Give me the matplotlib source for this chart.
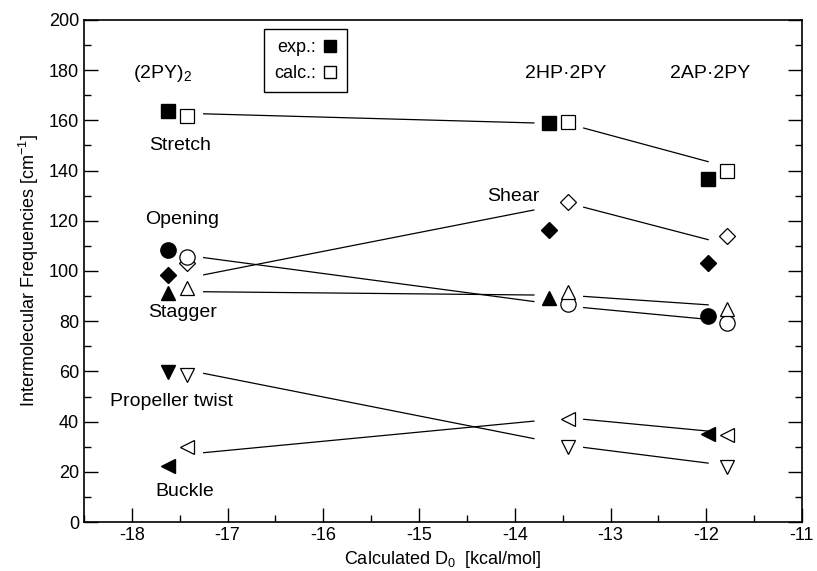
import numpy as np
import matplotlib
matplotlib.use("Agg")
import matplotlib.pyplot as plt
from matplotlib.lines import Line2D

plt.rcParams["font.family"] = ["Liberation Sans", "DejaVu Sans"]
plt.rcParams["mathtext.fontset"] = "custom"
plt.rcParams["mathtext.rm"] = "Liberation Sans"
plt.rcParams["mathtext.it"] = "Liberation Sans:italic"

# dimers (columns) and their D0 positions
dimers = ["(2PY)$_2$", "2HP·2PY", "2AP·2PY"]
x_exp = [-17.62, -13.64, -11.98]
x_calc = [-17.42, -13.44, -11.78]

# modes: name, marker
modes = ["Stretch", "Shear", "Opening", "Stagger", "Propeller twist", "Buckle"]
markers = ["s", "D", "o", "^", "v", "<"]

# experimental frequencies (nan = not observed)
exp_vals = {
    "Stretch":         [163.7, 159.0, 136.7],
    "Shear":           [98.4, 116.3, 103.2],
    "Opening":         [108.4, np.nan, 82.1],
    "Stagger":         [91.2, 89.2, np.nan],
    "Propeller twist": [59.8, np.nan, np.nan],
    "Buckle":          [22.3, np.nan, 35.1],
}
# calculated frequencies
calc_vals = {
    "Stretch":         [161.8, 159.4, 139.8],
    "Shear":           [103.2, 127.5, 113.9],
    "Opening":         [105.6, 86.9, 79.3],
    "Stagger":         [93.2, 91.6, 84.9],
    "Propeller twist": [58.6, 29.9, 21.9],
    "Buckle":          [29.9, 41.0, 34.7],
}
# guide line levels at each column
guide_vals = {
    "Stretch":         [162.8, 158.6, 141.5],
    "Shear":           [97.2, 127.0, 110.5],
    "Opening":         [106.2, 86.0, 80.0],
    "Stagger":         [91.8, 90.3, 86.0],
    "Propeller twist": [60.5, 30.5, 22.5],
    "Buckle":          [27.0, 41.5, 35.5],
}

# label positions for the mode names
mode_lab_x = {"Stretch": -17.50, "Shear": -14.02, "Opening": -17.48,
              "Stagger": -17.47, "Propeller twist": -17.59, "Buckle": -17.45}
mode_lab_y = {"Stretch": 150, "Shear": 129.5, "Opening": 120.5,
              "Stagger": 83.5, "Propeller twist": 48.0, "Buckle": 12.0}
dimer_lab_x = [-17.68, -13.47, -11.96]
dimer_lab_y = 178.5

msize = {"s": 9.5, "D": 7.8, "o": 11, "^": 10.5, "v": 10.5, "<": 10.5}

fig = plt.figure(figsize=(8.17, 5.71), dpi=100)
ax = fig.add_axes([0.1028, 0.0858, 0.8788, 0.8792])

gap_start = [0.17, 0.16]
gap_end = [0.36, 0.2]
for mode, mk in zip(modes, markers):
    ev = exp_vals[mode]
    cv = calc_vals[mode]
    gv = guide_vals[mode]
    ax.plot(x_exp, ev, linestyle="none", marker=mk, ms=msize[mk],
            mfc="black", mec="black", mew=1.0)
    ax.plot(x_calc, cv, linestyle="none", marker=mk, ms=msize[mk],
            mfc="white", mec="black", mew=0.9)
    # connecting lines between columns, trimmed near the markers
    for i in range(len(x_calc) - 1):
        xa, xb = x_calc[i], x_calc[i + 1]
        x0, x1 = xa + gap_start[i], xb - gap_end[i]
        y0 = np.interp(x0, [xa, xb], [gv[i], gv[i + 1]])
        y1 = np.interp(x1, [xa, xb], [gv[i], gv[i + 1]])
        ax.plot([x0, x1], [y0, y1], color="black", lw=0.9)
    ax.text(mode_lab_x[mode], mode_lab_y[mode], mode, fontsize=14,
            ha="center", va="center")

for name, xl in zip(dimers, dimer_lab_x):
    ax.text(xl, dimer_lab_y, name, fontsize=14, ha="center", va="center")

ax.set_xlim(-18.5, -11)
ax.set_ylim(0, 200)
ax.set_xticks(np.arange(-18, -10.9, 1))
ax.set_xticks(np.arange(-18.5, -10.9, 0.5), minor=True)
ax.set_yticks(np.arange(0, 201, 20))
ax.set_yticks(np.arange(0, 201, 10), minor=True)
ax.tick_params(which="major", direction="in", length=10, width=1,
               labelsize=13, right=True, top=False)
ax.tick_params(which="minor", direction="in", length=5, width=1,
               right=True, top=False)
ax.xaxis.set_major_formatter(plt.FuncFormatter(lambda v, p: f"{v:.0f}"))
for s in ax.spines.values():
    s.set_linewidth(1.2)

ax.set_xlabel("Calculated D$_0$  [kcal/mol]", fontsize=13, labelpad=4)
ax.set_ylabel("Intermolecular Frequencies [cm$^{-1}$]", fontsize=13, labelpad=6)

handles = [Line2D([], [], linestyle="none", marker="s", ms=9, mfc="black", mec="black"),
           Line2D([], [], linestyle="none", marker="s", ms=9, mfc="white", mec="black")]
leg = ax.legend(handles, ["exp.:", "calc.:"], markerfirst=False, loc="upper left",
                bbox_to_anchor=(0.238, 1.0), fancybox=False, framealpha=1,
                edgecolor="black", fontsize=13, handlelength=0.8,
                handletextpad=0.4, borderpad=0.55, labelspacing=0.5)
leg.get_frame().set_linewidth(1.0)

fig.savefig("out.png", dpi=100)
